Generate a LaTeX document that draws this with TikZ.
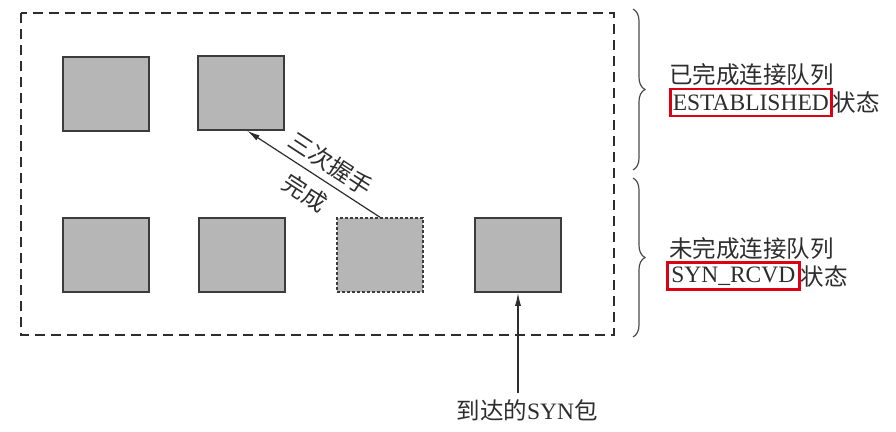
\documentclass[tikz,border=0pt]{standalone}
\usepackage{fontspec}
\setmainfont{Liberation Serif}
\newfontfamily\cjk{Noto Sans CJK SC}
\usetikzlibrary{decorations.pathreplacing,arrows.meta,calc}
\definecolor{boxfill}{RGB}{182,182,182}
\definecolor{boxline}{RGB}{60,60,60}
\definecolor{inkc}{RGB}{45,45,45}
\definecolor{redbox}{RGB}{220,0,20}
\begin{document}
\begin{tikzpicture}[x=1pt,y=-1pt,
  sq/.style={draw=boxline,line width=1.5pt,fill=boxfill,minimum width=86pt,minimum height=74pt,inner sep=0pt},
  lbl/.style={inner sep=0pt,text=inkc,font=\fontsize{23.5}{29}\selectfont},
  redmark/.style={draw=redbox,line width=2.5pt,inner ysep=0pt,minimum height=27pt,text=inkc,font=\fontsize{23.5}{29}\selectfont},
  brc/.style={draw=inkc!85,line width=1.2pt,decorate,decoration={brace,amplitude=12pt}},
  arr/.style={draw=inkc,line width=1.2pt,-{Latex[length=13pt,width=6pt]}}
]
\useasboundingbox (0,0) rectangle (896,431);
% outer dashed frame
\draw[inkc,line width=1.4pt,dash pattern=on 10pt off 6pt] (21,13) rectangle (614,335);
% squares
\node[sq] (sq1) at (106,94) {};
\node[sq] (sq2) at (241,93) {};
\node[sq] (sq3) at (106,255) {};
\node[sq] (sq4) at (242,255) {};
\node[sq,dash pattern=on 3pt off 2pt] (sq5) at (380,255) {};
\node[sq] (sq6) at (518,255) {};
% handshake arrow
\draw[arr] (sq5.north) -- ($(sq2.south)+(6,0)$);
\node[lbl,rotate=-33] (hs1) at (331,164) {\cjk 三次握手};
\node[lbl,rotate=-33] (hs2) at (305,193) {\cjk 完成};
% SYN arrow
\node[lbl,anchor=north] (syn) at (527,399) {\cjk 到达的\rmfamily SYN\cjk 包};
\coordinate (synstart) at ($(sq6.south |- syn.north)+(0,-6)$);
\draw[arr] (synstart) -- (sq6.south);
% braces
\draw[brc] (633,9) -- (633,170);
\draw[brc] (633,178) -- (633,337);
% queue labels
\node[lbl,anchor=west] (q1) at (669,75) {\cjk 已完成连接队列};
\node[redmark,anchor=west,inner xsep=2.5pt] (est) at (669,102.5) {ESTABLISHED};
\node[lbl,anchor=west] (st1) at (est.east) {\cjk 状态};
\node[lbl,anchor=west] (q2) at (669,249) {\cjk 未完成连接队列};
\node[redmark,anchor=west,inner xsep=4pt] (rcv) at (666,276) {SYN\_RCVD};
\node[lbl,anchor=west] (st2) at (rcv.east) {\cjk 状态};
\end{tikzpicture}
\end{document}
